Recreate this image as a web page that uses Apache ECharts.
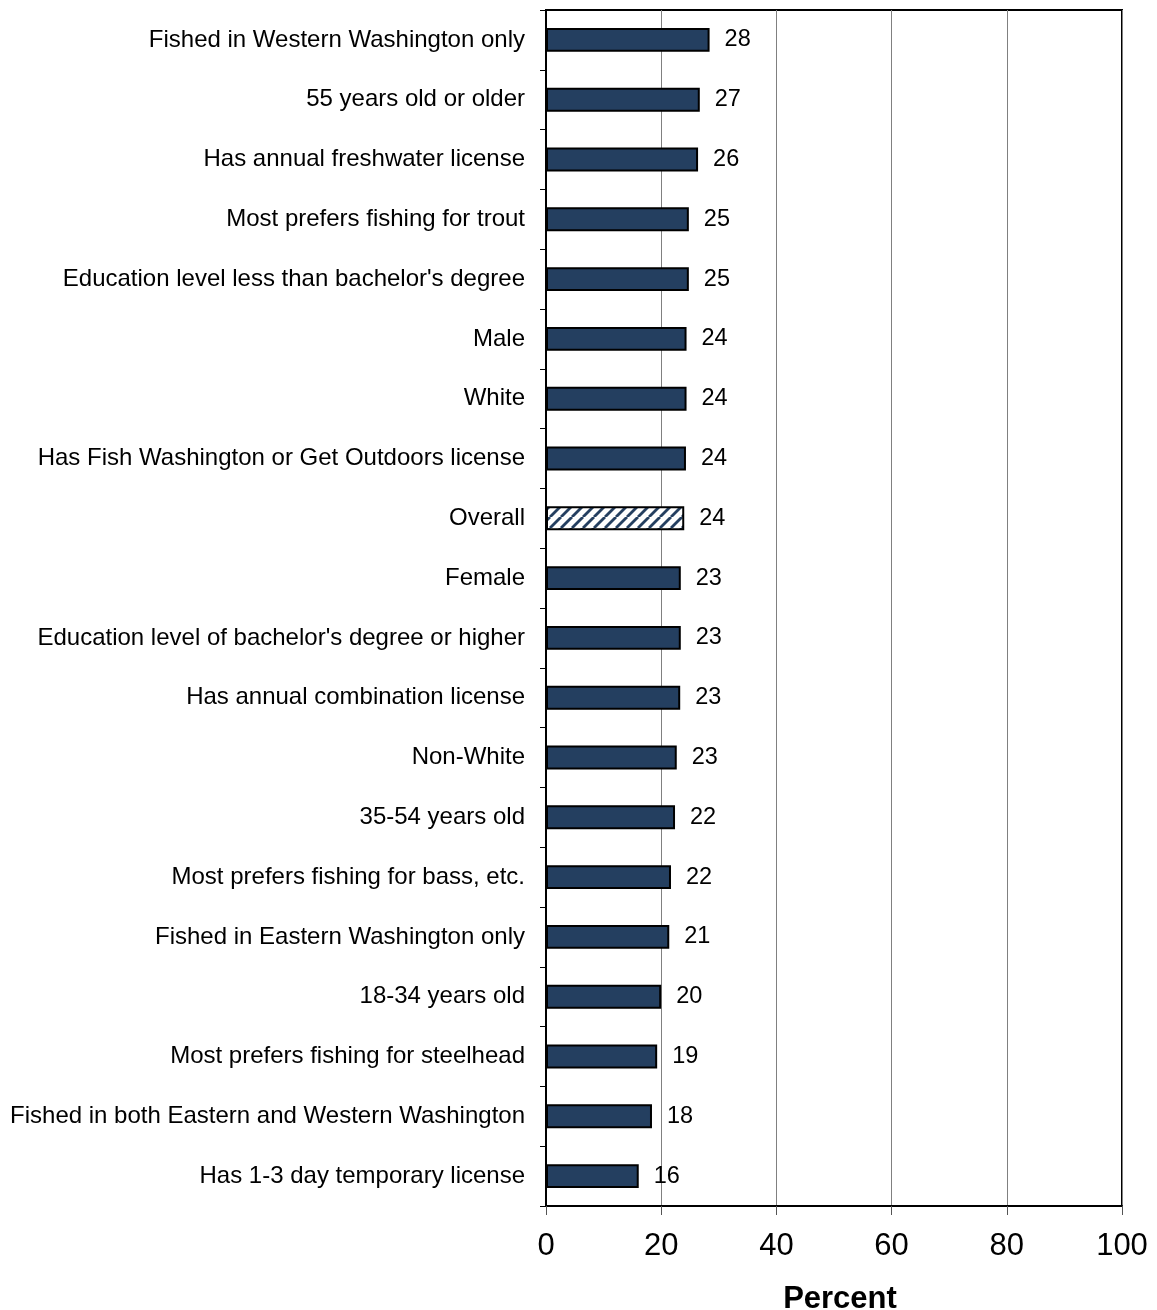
<!DOCTYPE html>
<html><head><meta charset="utf-8">
<script src="https://cdn.jsdelivr.net/npm/echarts@6/dist/echarts.min.js"></script>
<style>html,body{margin:0;padding:0;background:#fff}#c{width:1157px;height:1310px}</style>
</head><body><div id="c"></div>
<script>
const categories = [
  "Fished in Western Washington only",
  "55 years old or older",
  "Has annual freshwater license",
  "Most prefers fishing for trout",
  "Education level less than bachelor's degree",
  "Male",
  "White",
  "Has Fish Washington or Get Outdoors license",
  "Overall",
  "Female",
  "Education level of bachelor's degree or higher",
  "Has annual combination license",
  "Non-White",
  "35-54 years old",
  "Most prefers fishing for bass, etc.",
  "Fished in Eastern Washington only",
  "18-34 years old",
  "Most prefers fishing for steelhead",
  "Fished in both Eastern and Western Washington",
  "Has 1-3 day temporary license"
];
const values = [28.4, 26.7, 26.4, 24.8, 24.8, 24.4, 24.4, 24.3, 24.0, 23.4, 23.4, 23.3, 22.7, 22.4, 21.7, 21.4, 20.0, 19.3, 18.4, 16.1];
const valueLabels = ["28","27","26","25","25","24","24","24","24","23","23","23","23","22","22","21","20","19","18","16"];
const xTicks = [0, 20, 40, 60, 80, 100];
const highlight = "Overall";

function hatch() {
  const s = 11;
  const c = document.createElement('canvas');
  c.width = s; c.height = s;
  const g = c.getContext('2d');
  g.fillStyle = '#ffffff'; g.fillRect(0, 0, s, s);
  g.strokeStyle = '#243f60'; g.lineWidth = 2.8;
  for (let k = -s; k <= 2 * s; k += s) {
    g.beginPath(); g.moveTo(k, s); g.lineTo(k + s, 0); g.stroke();
  }
  return c;
}
const pattern = { image: hatch(), repeat: 'repeat' };
const FONT = 'Liberation Sans, Arial, sans-serif';

const chart = echarts.init(document.getElementById('c'));
chart.setOption({
  animation: false,
  backgroundColor: '#fff',
  grid: {
    left: 546, right: 35, top: 10, bottom: 104,
    containLabel: false, outerBoundsMode: 'none',
    show: true, borderColor: '#000', borderWidth: 2, backgroundColor: 'transparent'
  },
  xAxis: {
    type: 'value', min: xTicks[0], max: xTicks[xTicks.length - 1], interval: 20,
    axisLine: { show: true, lineStyle: { color: '#000', width: 2 } },
    axisTick: { show: true, length: 9, lineStyle: { color: '#555', width: 1 } },
    splitLine: { show: true, lineStyle: { color: '#808080', width: 1 } },
    axisLabel: { fontFamily: FONT, fontSize: 31, color: '#000', margin: 25 },
    name: 'Percent', nameLocation: 'middle', nameGap: 78,
    nameTextStyle: { fontFamily: FONT, fontSize: 31, fontWeight: 'bold', color: '#000', padding: [0, 0, 0, 12] }
  },
  yAxis: {
    type: 'category', data: categories, inverse: true,
    axisLine: { show: true, lineStyle: { color: '#000', width: 2 } },
    axisTick: { show: true, length: 6, alignWithLabel: false, lineStyle: { color: '#000', width: 1 } },
    axisLabel: { fontFamily: FONT, fontSize: 24, color: '#000', margin: 21, padding: [5, 0, 0, 0] },
    splitLine: { show: false }
  },
  series: [{
    type: 'bar',
    barWidth: '40%',
    data: values.map((v, i) => ({
      value: v,
      itemStyle: categories[i] === highlight ? { color: pattern } : {}
    })),
    itemStyle: { color: '#243f60', borderColor: '#000', borderWidth: 2 },
    label: {
      show: true, position: 'right', distance: 15,
      fontFamily: FONT, fontSize: 23.5, color: '#000', padding: [4, 0, 0, 0],
      formatter: p => valueLabels[p.dataIndex]
    }
  }]
});
</script></body></html>
